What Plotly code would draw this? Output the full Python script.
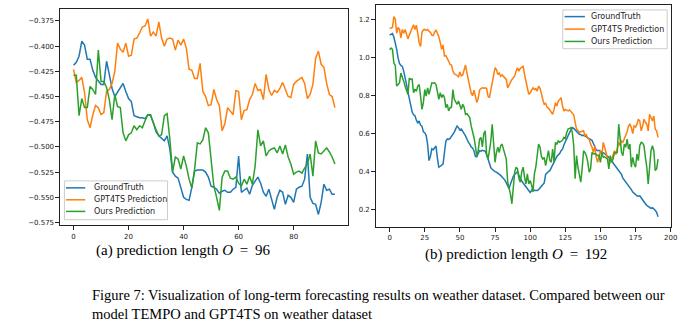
import plotly.graph_objects as go

# ---------------- data ----------------
# (a) prediction length 96
steps_96 = list(range(96))
truth_96 = [
    -0.419, -0.416, -0.410, -0.395, -0.399, -0.413, -0.413, -0.424, -0.431, -0.435,
    -0.438, -0.438, -0.415, -0.428, -0.442, -0.450, -0.446, -0.441, -0.437, -0.445,
    -0.452, -0.455, -0.469, -0.470, -0.471, -0.471, -0.472, -0.468, -0.468, -0.476,
    -0.485, -0.489, -0.492, -0.494, -0.489, -0.502, -0.525, -0.529, -0.531, -0.542,
    -0.550, -0.552, -0.553, -0.540, -0.524, -0.523, -0.523, -0.523, -0.525, -0.530,
    -0.539, -0.540, -0.542, -0.546, -0.544, -0.543, -0.545, -0.545, -0.542, -0.540,
    -0.509, -0.545, -0.543, -0.541, -0.547, -0.538, -0.534, -0.530, -0.536, -0.545,
    -0.549, -0.542, -0.552, -0.562, -0.550, -0.543, -0.545, -0.557, -0.548, -0.550,
    -0.555, -0.542, -0.540, -0.539, -0.532, -0.507, -0.550, -0.556, -0.557, -0.567,
    -0.555, -0.537, -0.543, -0.542, -0.547, -0.547,
]
gpt4ts_96 = [
    -0.423, -0.436, -0.434, -0.431, -0.446, -0.473, -0.481, -0.468, -0.459, -0.461,
    -0.468, -0.466, -0.445, -0.443, -0.437, -0.425, -0.397, -0.403, -0.406, -0.397,
    -0.410, -0.409, -0.393, -0.392, -0.387, -0.381, -0.380, -0.373, -0.390, -0.386,
    -0.390, -0.376, -0.392, -0.400, -0.393, -0.392, -0.393, -0.404, -0.394, -0.399,
    -0.393, -0.402, -0.423, -0.424, -0.432, -0.432, -0.417, -0.445, -0.450, -0.459,
    -0.458, -0.443, -0.453, -0.459, -0.484, -0.477, -0.461, -0.464, -0.468, -0.444,
    -0.445, -0.473, -0.464, -0.463, -0.453, -0.448, -0.437, -0.444, -0.443, -0.453,
    -0.428, -0.443, -0.449, -0.444, -0.446, -0.442, -0.436, -0.443, -0.450, -0.451,
    -0.438, -0.435, -0.433, -0.431, -0.437, -0.452, -0.448, -0.438, -0.412, -0.405,
    -0.418, -0.421, -0.437, -0.448, -0.450, -0.461,
]
ours_96 = [
    -0.429, -0.429, -0.469, -0.452, -0.461, -0.461, -0.440, -0.443, -0.448, -0.404,
    -0.435, -0.435, -0.441, -0.453, -0.473, -0.448, -0.460, -0.461, -0.486, -0.494,
    -0.488, -0.486, -0.479, -0.483, -0.479, -0.481, -0.474, -0.468, -0.469, -0.477,
    -0.483, -0.489, -0.488, -0.469, -0.467, -0.492, -0.525, -0.510, -0.512, -0.522,
    -0.509, -0.519, -0.532, -0.541, -0.522, -0.496, -0.497, -0.493, -0.481, -0.486,
    -0.512, -0.539, -0.550, -0.563, -0.530, -0.524, -0.524, -0.531, -0.532, -0.530,
    -0.536, -0.539, -0.532, -0.537, -0.529, -0.537, -0.519, -0.483, -0.499, -0.494,
    -0.509, -0.504, -0.502, -0.501, -0.506, -0.499, -0.507, -0.498, -0.510, -0.517,
    -0.527, -0.525, -0.524, -0.526, -0.521, -0.517, -0.507, -0.529, -0.494, -0.506,
    -0.507, -0.504, -0.501, -0.505, -0.510, -0.517,
]

# (b) prediction length 192
steps_192 = list(range(192))
truth_192 = [
    1.120, 1.125, 1.128, 1.110, 1.080, 1.045, 1.000, 0.970, 0.960, 0.955,
    0.930, 0.900, 0.860, 0.820, 0.785, 0.740, 0.715, 0.700, 0.695, 0.672,
    0.655, 0.667, 0.645, 0.640, 0.610, 0.605, 0.590, 0.545, 0.458, 0.480,
    0.520, 0.515, 0.525, 0.535, 0.470, 0.423, 0.428, 0.432, 0.440, 0.500,
    0.560, 0.572, 0.570, 0.575, 0.585, 0.595, 0.608, 0.625, 0.640, 0.632,
    0.620, 0.624, 0.615, 0.600, 0.588, 0.565, 0.555, 0.545, 0.530, 0.525,
    0.510, 0.480, 0.478, 0.495, 0.510, 0.508, 0.512, 0.510, 0.508, 0.490,
    0.466, 0.445, 0.420, 0.412, 0.405, 0.400, 0.397, 0.392, 0.385, 0.380,
    0.372, 0.365, 0.355, 0.340, 0.325, 0.310, 0.335, 0.360, 0.375, 0.385,
    0.395, 0.400, 0.380, 0.362, 0.350, 0.340, 0.330, 0.320, 0.310, 0.300,
    0.290, 0.300, 0.310, 0.300, 0.298, 0.300, 0.305, 0.315, 0.320, 0.330,
    0.340, 0.385, 0.395, 0.400, 0.405, 0.420, 0.440, 0.450, 0.465, 0.480,
    0.488, 0.495, 0.510, 0.518, 0.540, 0.560, 0.575, 0.590, 0.605, 0.622,
    0.632, 0.628, 0.620, 0.614, 0.605, 0.597, 0.595, 0.590, 0.592, 0.588,
    0.585, 0.580, 0.575, 0.570, 0.565, 0.548, 0.530, 0.515, 0.510, 0.512,
    0.508, 0.505, 0.502, 0.495, 0.488, 0.482, 0.475, 0.468, 0.460, 0.445,
    0.435, 0.425, 0.418, 0.410, 0.398, 0.385, 0.365, 0.355, 0.345, 0.340,
    0.330, 0.318, 0.305, 0.292, 0.285, 0.276, 0.272, 0.270, 0.272, 0.262,
    0.250, 0.240, 0.230, 0.222, 0.218, 0.212, 0.206, 0.210, 0.205, 0.196,
    0.185, 0.162,
]
gpt4ts_192 = [
    1.155, 1.158, 1.160, 1.218, 1.205, 1.130, 1.160, 1.150, 1.105, 1.150,
    1.130, 1.150, 1.125, 1.100, 1.120, 1.140, 1.155, 1.175, 1.150, 1.172,
    1.130, 1.080, 1.060, 1.135, 1.148, 1.150, 1.145, 1.150, 1.140, 1.135,
    1.120, 1.118, 1.135, 1.148, 1.130, 1.112, 1.080, 1.045, 1.068, 1.010,
    1.012, 1.000, 0.982, 0.965, 0.962, 0.930, 0.915, 0.912, 0.905, 0.900,
    0.925, 0.905, 0.910, 0.935, 0.962, 0.920, 0.885, 0.860, 0.815, 0.800,
    0.830, 0.798, 0.765, 0.785, 0.830, 0.838, 0.842, 0.840, 0.842, 0.838,
    0.798, 0.790, 0.830, 0.860, 0.905, 0.948, 0.938, 0.912, 0.920, 0.903,
    0.910, 0.900, 0.894, 0.886, 0.842, 0.860, 0.875, 0.886, 0.895, 0.905,
    0.930, 0.948, 0.930, 0.945, 0.950, 0.955, 0.912, 0.877, 0.860, 0.808,
    0.815, 0.830, 0.842, 0.833, 0.838, 0.825, 0.850, 0.840, 0.800, 0.780,
    0.755, 0.760, 0.740, 0.735, 0.725, 0.710, 0.702, 0.728, 0.763, 0.746,
    0.772, 0.780, 0.790, 0.746, 0.720, 0.728, 0.722, 0.720, 0.725, 0.715,
    0.705, 0.700, 0.660, 0.624, 0.618, 0.606, 0.610, 0.612, 0.615, 0.589,
    0.595, 0.575, 0.571, 0.545, 0.528, 0.501, 0.536, 0.475, 0.449, 0.480,
    0.510, 0.484, 0.554, 0.528, 0.501, 0.470, 0.458, 0.449, 0.466, 0.484,
    0.510, 0.490, 0.530, 0.554, 0.536, 0.562, 0.555, 0.571, 0.590, 0.610,
    0.641, 0.650, 0.632, 0.600, 0.641, 0.635, 0.650, 0.676, 0.667, 0.615,
    0.640, 0.676, 0.660, 0.650, 0.615, 0.702, 0.685, 0.667, 0.693, 0.624,
    0.615, 0.580,
]
ours_192 = [
    1.043, 1.052, 1.045, 0.973, 0.960, 0.851, 0.859, 0.868, 0.920, 0.903,
    0.877, 0.850, 0.824, 0.807, 0.894, 0.886, 0.888, 0.816, 0.835, 0.824,
    0.851, 0.859, 0.798, 0.728, 0.764, 0.833, 0.798, 0.842, 0.807, 0.833,
    0.868, 0.866, 0.868, 0.859, 0.807, 0.781, 0.816, 0.790, 0.807, 0.790,
    0.737, 0.755, 0.720, 0.737, 0.740, 0.833, 0.781, 0.765, 0.755, 0.772,
    0.746, 0.728, 0.755, 0.740, 0.702, 0.705, 0.695, 0.685, 0.641, 0.615,
    0.580, 0.536, 0.484, 0.510, 0.571, 0.580, 0.530, 0.600, 0.615, 0.493,
    0.466, 0.510, 0.560, 0.650, 0.536, 0.449, 0.501, 0.528, 0.501, 0.536,
    0.545, 0.520, 0.484, 0.466, 0.344, 0.318, 0.280, 0.230, 0.335, 0.400,
    0.423, 0.414, 0.362, 0.344, 0.400, 0.423, 0.370, 0.335, 0.388, 0.335,
    0.353, 0.330, 0.292, 0.388, 0.423, 0.480, 0.545, 0.530, 0.480, 0.466,
    0.475, 0.431, 0.470, 0.510, 0.460, 0.449, 0.519, 0.449, 0.554, 0.545,
    0.562, 0.555, 0.560, 0.565, 0.580, 0.575, 0.606, 0.624, 0.628, 0.632,
    0.606, 0.536, 0.362, 0.484, 0.423, 0.380, 0.344, 0.414, 0.510, 0.500,
    0.484, 0.450, 0.397, 0.414, 0.501, 0.493, 0.495, 0.490, 0.484, 0.486,
    0.449, 0.501, 0.475, 0.478, 0.470, 0.466, 0.414, 0.484, 0.449, 0.466,
    0.501, 0.500, 0.501, 0.650, 0.589, 0.501, 0.484, 0.545, 0.528, 0.571,
    0.519, 0.545, 0.423, 0.475, 0.440, 0.423, 0.493, 0.458, 0.536, 0.554,
    0.550, 0.536, 0.475, 0.423, 0.335, 0.431, 0.510, 0.536, 0.510, 0.405,
    0.414, 0.466,
]

series_names = ["GroundTruth", "GPT4TS Prediction", "Ours Prediction"]
colors = ["#1f77b4", "#ff7f0e", "#2ca02c"]

x_ticks_96 = [0, 20, 40, 60, 80]
x_ticks_192 = [0, 25, 50, 75, 100, 125, 150, 175, 200]

# ---------------- figure ----------------
W, H = 696, 332


def px(x):
    return x / W


def py(y):
    return 1 - y / H


fig = go.Figure()

for ys, name, col in zip([truth_96, gpt4ts_96, ours_96], series_names, colors):
    fig.add_trace(go.Scatter(x=steps_96, y=ys, mode="lines", name=name,
                             line=dict(color=col, width=1.5),
                             xaxis="x", yaxis="y", showlegend=False))
for ys, name, col in zip([truth_192, gpt4ts_192, ours_192], series_names, colors):
    fig.add_trace(go.Scatter(x=steps_192, y=ys, mode="lines", name=name,
                             line=dict(color=col, width=1.5),
                             xaxis="x2", yaxis="y2", showlegend=False))

tick_font = dict(family="DejaVu Sans", size=7, color="#222")
axis_common = dict(showgrid=False, zeroline=False, showline=True, mirror=True,
                   linecolor="#222", linewidth=1, ticks="outside", ticklen=4,
                   tickwidth=1, tickcolor="#222", tickfont=tick_font)

fig.update_layout(
    width=W, height=H,
    margin=dict(l=0, r=0, t=0, b=0),
    paper_bgcolor="white", plot_bgcolor="white",
    xaxis=dict(domain=[px(61), px(351)], range=[-4.75, 99.75],
               tickvals=x_ticks_96, anchor="y", **axis_common),
    yaxis=dict(domain=[py(226.7), py(9.3)], range=[-0.5778, -0.3634],
               tick0=-0.575, dtick=0.025, tickformat=".3f", anchor="x",
               **axis_common),
    xaxis2=dict(domain=[px(379.5), px(677.3)], range=[-9.55, 200.55],
                tickvals=x_ticks_192, anchor="y2", **axis_common),
    yaxis2=dict(domain=[py(228.3), py(5)], range=[0.108, 1.279],
                tick0=0.2, dtick=0.2, tickformat=".1f", anchor="x2",
                **axis_common),
)

# Legend boxes drawn in paper coordinates
legend_font = dict(family="DejaVu Sans", size=8, color="#222")


def add_legend(box, line_x, text_x, rows):
    x0, y0, x1, y1 = box
    fig.add_shape(type="rect", xref="paper", yref="paper",
                  x0=px(x0), x1=px(x1), y0=py(y1), y1=py(y0),
                  line=dict(color="#cccccc", width=1),
                  fillcolor="rgba(255,255,255,0.8)", layer="above")
    for name, col, ry in zip(series_names, colors, rows):
        fig.add_shape(type="line", xref="paper", yref="paper",
                      x0=px(line_x[0]), x1=px(line_x[1]), y0=py(ry), y1=py(ry),
                      line=dict(color=col, width=1.5), layer="above")
        fig.add_annotation(x=px(text_x), y=py(ry), xref="paper", yref="paper",
                           text=name, showarrow=False, xanchor="left",
                           yanchor="middle", font=legend_font)


add_legend((65, 182, 169, 221), (66.5, 86), 92.3, (189, 201, 212.7))
add_legend((567.7, 10, 673, 49), (569.5, 590), 594, (16.7, 29.3, 41.7))

# Captions
serif = dict(family="Liberation Serif", size=14.5, color="black")
sub_serif = dict(family="Liberation Serif", size=15, color="black")
fig.add_annotation(x=px(185), y=py(252), xref="paper", yref="paper",
                   text="(a) prediction length <i>O</i>\u2009 =\u2009 96", showarrow=False,
                   xanchor="center", yanchor="middle", font=sub_serif)
fig.add_annotation(x=px(520), y=py(256), xref="paper", yref="paper",
                   text="(b) prediction length <i>O</i>\u2009 =\u2009 192", showarrow=False,
                   xanchor="center", yanchor="middle", font=sub_serif)
fig.add_annotation(x=px(91), y=py(297), xref="paper", yref="paper",
                   text="Figure 7: Visualization of long-term forecasting results on weather dataset. Compared between our",
                   showarrow=False, xanchor="left", yanchor="middle", font=serif)
fig.add_annotation(x=px(91), y=py(316), xref="paper", yref="paper",
                   text="model TEMPO and GPT4TS on weather dataset",
                   showarrow=False, xanchor="left", yanchor="middle", font=serif)

fig.write_html("out.html")
